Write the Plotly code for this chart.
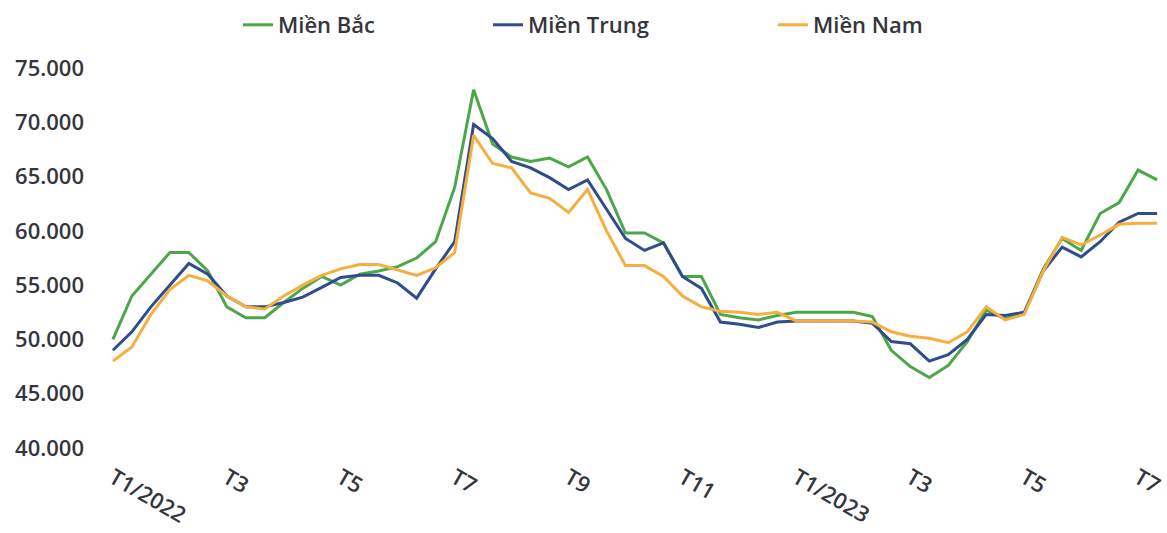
import plotly.graph_objects as go

# Periods: 3 ten-day periods per month, Jan 2022 .. mid Jul 2023
months = ["1/2022", "2/2022", "3/2022", "4/2022", "5/2022", "6/2022", "7/2022",
          "8/2022", "9/2022", "10/2022", "11/2022", "12/2022", "1/2023", "2/2023",
          "3/2023", "4/2023", "5/2023", "6/2023", "7/2023"]
periods = [f"{m}-{d}" for m in months for d in (1, 2, 3)][:56]

tick_months = ["1/2022", "3/2022", "5/2022", "7/2022", "9/2022", "11/2022",
               "1/2023", "3/2023", "5/2023", "7/2023"]
tick_labels = ["T1/2022", "T3", "T5", "T7", "T9", "T11", "T1/2023", "T3", "T5", "T7"]

mien_bac = [50000, 54000, 56000, 58000, 58000, 56300, 53000, 52000, 52000, 53400,
            54700, 55800, 55000, 56000, 56300, 56700, 57500, 59000, 64000, 73000,
            68000, 66800, 66400, 66700, 65900, 66800, 63800, 59800, 59800, 58900,
            55800, 55800, 52300, 52000, 51800, 52200, 52500, 52500, 52500, 52500,
            52100, 49000, 47500, 46500, 47600, 49800, 52700, 51900, 52400, 56500,
            59300, 58200, 61600, 62600, 65600, 64700]
mien_trung = [49000, 50700, 53000, 55000, 57000, 56000, 54000, 53000, 53000, 53400,
              53900, 54800, 55700, 55900, 55900, 55200, 53800, 56500, 59000, 69800,
              68500, 66400, 65800, 64900, 63800, 64700, 62000, 59300, 58200, 58900,
              55800, 54700, 51600, 51400, 51100, 51600, 51700, 51700, 51700, 51700,
              51500, 49800, 49600, 48000, 48600, 50000, 52300, 52200, 52500, 56300,
              58500, 57600, 59000, 60800, 61600, 61600]
mien_nam = [48000, 49300, 52300, 54600, 55900, 55400, 54000, 53000, 52800, 54000,
            55000, 55900, 56500, 56900, 56900, 56400, 55900, 56600, 58000, 68800,
            66200, 65800, 63500, 63000, 61700, 63800, 60000, 56800, 56800, 55800,
            54000, 53000, 52600, 52500, 52300, 52500, 51700, 51700, 51700, 51700,
            51600, 50700, 50300, 50100, 49700, 50700, 53000, 51800, 52300, 56300,
            59400, 58700, 59600, 60600, 60700, 60700]

series = [
    ("Miền Bắc", mien_bac, "#4ca64a", "legend"),
    ("Miền Trung", mien_trung, "#2f4c8c", "legend2"),
    ("Miền Nam", mien_nam, "#f6ae3e", "legend3"),
]

fig = go.Figure()
for name, vals, color, lg in series:
    fig.add_trace(go.Scatter(x=periods, y=vals, name=name, mode="lines",
                             line=dict(color=color, width=3), legend=lg))

font = dict(family="'Open Sans', Lato, sans-serif", size=22, color="#34353d",
            weight=600)
leg_common = dict(orientation="h", xref="container", yref="container",
                  yanchor="top", xanchor="left", y=1 - 4 / 533,
                  font=font, bgcolor="rgba(0,0,0,0)", itemwidth=30)

fig.update_layout(
    width=1167, height=533,
    margin=dict(l=111, r=8, t=68, b=85, autoexpand=False),
    paper_bgcolor="white", plot_bgcolor="white",
    font=font,
    separators=",.",
    showlegend=True,
    legend=dict(x=238 / 1167, **leg_common),
    legend2=dict(x=488 / 1167, **leg_common),
    legend3=dict(x=773 / 1167, **leg_common),
    xaxis=dict(type="category", range=[-0.1, 55.1], automargin=False,
               tickvals=[m + "-1" for m in tick_months],
               ticktext=tick_labels, tickangle=30, showgrid=False,
               zeroline=False, showline=False, ticks="", ticklabelstandoff=12,
               tickfont=font),
    yaxis=dict(range=[40000, 75000], dtick=5000, tickformat=",.0f",
               automargin=False,
               showgrid=False, zeroline=False, showline=False, ticks="",
               ticklabelstandoff=26, tickfont=font),
)

fig.write_html("out.html")
